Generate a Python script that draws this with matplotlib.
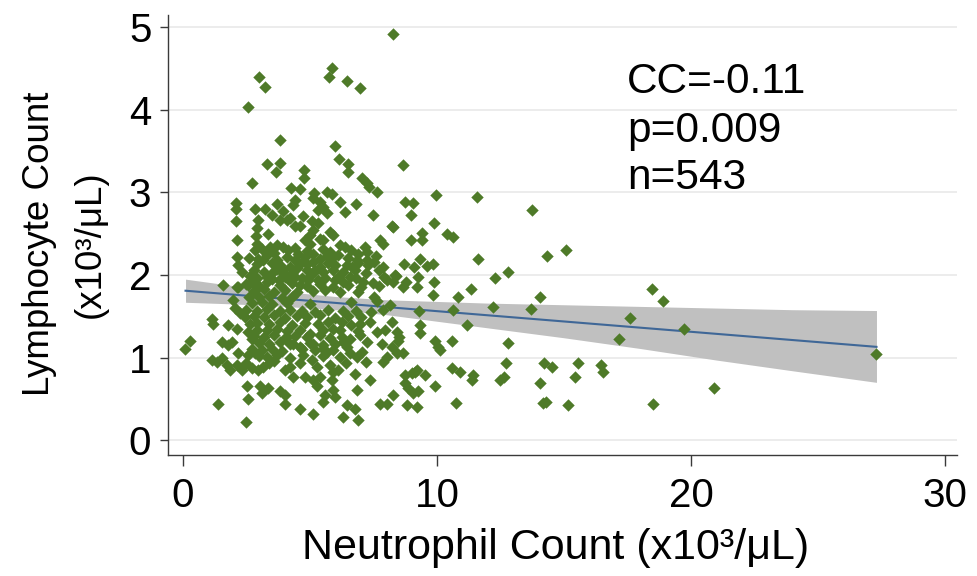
import matplotlib
matplotlib.use("Agg")
import matplotlib.pyplot as plt
import numpy as np

plt.rcParams['font.family'] = ['Liberation Sans', 'DejaVu Sans']

# ---- data (Neutrophil x10^3/uL, Lymphocyte x10^3/uL) ----
pts_top = [(8.28,4.92),(2.99,4.40),(3.23,4.28),(2.55,4.04),(5.85,4.51),(5.74,4.40),
           (6.47,4.35),(6.97,4.26),(3.82,3.64),(5.99,3.56)]
pts_upper = [(3.30,3.35),(3.80,3.36),(3.66,3.25),(2.73,3.11),(6.14,3.41),(6.51,3.35),(6.51,3.25),
             (4.76,3.27),(4.76,3.17),(8.65,3.33),(7.04,3.17),(7.26,3.12),(7.34,3.07),(7.65,3.00),
             (9.97,2.97),(11.56,2.94),(4.24,3.06),(4.61,3.04),(5.16,2.99),(5.11,2.93),(5.66,3.01),(5.85,2.98)]
pts_high = [(2.09,2.87),(2.09,2.80),(2.84,2.80),(3.23,2.80),(3.72,2.86),(3.49,2.73),(3.95,2.77),(2.09,2.65),
            (2.97,2.67),(2.90,2.57),(2.88,2.47),(3.36,2.50),(3.82,2.67),(2.11,2.43),(4.41,2.91),(4.34,2.85),
            (5.39,2.88),(5.53,2.83),(5.33,2.79),(5.66,2.75),(6.18,2.88),(6.81,2.86),(6.38,2.76),(7.49,2.73),
            (4.08,2.67),(4.21,2.69),(4.71,2.71),(4.61,2.59),(5.07,2.65),(5.13,2.55),(5.00,2.48),(5.33,2.63),
            (5.79,2.52),(5.92,2.48),(8.22,2.59),(4.41,2.60),(4.80,2.42),(5.00,2.38),(5.39,2.44),(5.53,2.42),
            (8.74,2.88),(9.04,2.87),(8.96,2.73),(8.25,2.58),(9.88,2.63),(9.40,2.51),(9.40,2.43),(8.96,2.43),
            (10.38,2.50),(10.62,2.46),(13.72,2.79),(7.76,2.42),(7.89,2.38)]
pts_mid = [(2.93,2.38),(2.84,2.30),(3.43,2.34),(3.69,2.36),(2.12,2.22),(2.18,2.12),(2.97,2.20),(3.16,2.18),
           (3.69,2.18),(3.82,2.12),(2.31,2.04),(2.64,1.99),(3.30,1.98),(3.49,2.02),(3.76,1.94),(3.95,2.02),
           (1.59,1.88),(2.11,1.86),(6.18,2.36),(6.38,2.34),(7.17,2.34),(7.23,2.28),(3.95,2.34),(4.15,2.30),
           (4.08,2.22),(4.54,2.26),(4.41,2.18),(4.67,2.16),(5.13,2.26),(5.13,2.16),(5.66,2.23),(5.92,2.22),
           (6.44,2.12),(6.64,2.10),(6.84,2.18),(7.23,2.18),(7.30,2.12),(7.89,2.10),(8.35,2.00),(3.95,2.06),
           (4.21,2.10),(4.48,2.08),(4.08,1.96),(4.41,1.98),(4.87,2.06),(5.07,2.02),(4.94,1.94),(5.39,2.10),
           (5.53,2.04),(5.33,1.94),(6.12,1.98),(6.31,1.92),(6.58,1.98),(7.10,1.92),(7.49,1.90),(8.02,1.94),
           (4.61,1.88),(11.60,2.20),(8.70,2.13),(9.09,2.10),(9.33,2.20),(9.62,2.11),(9.86,2.13),(8.39,1.99),
           (8.25,1.91),(8.78,1.92),(8.67,1.86),(9.27,1.98),(9.20,1.86),(9.88,1.92),(15.08,2.30),(14.33,2.23),
           (12.80,2.04),(12.27,1.96),(6.77,2.06),(2.18,1.85),(2.57,1.88),(2.71,1.92)]
pts_low = [(1.98,1.70),(2.05,1.60),(2.25,1.54),(2.44,1.49),(2.64,1.41),(1.13,1.47),(1.20,1.41),(1.79,1.39),
           (2.11,1.35),(2.57,1.31),(2.71,1.23),(1.52,1.19),(1.79,1.15),(1.92,1.19),(0.28,1.20),(0.08,1.10),
           (2.18,1.05),(2.57,1.03),(2.84,1.05),(9.83,1.76),(11.34,1.83),(10.84,1.74),(9.30,1.57),(10.64,1.58),
           (8.15,1.64),(8.22,1.43),(11.17,1.39),(9.33,1.39),(9.33,1.30),(8.41,1.31),(8.52,1.25),(8.48,1.20),
           (9.92,1.20),(10.05,1.13),(10.12,1.09),(10.58,1.20),(8.22,1.13),(8.41,1.06),(8.67,1.05),(14.07,1.73),
           (18.46,1.83),(18.88,1.69),(12.22,1.61),(13.70,1.59),(17.61,1.48),(19.72,1.35),(27.30,1.04),
           (12.80,1.18),(17.15,1.23),(7.63,1.68),(7.89,1.58),(6.25,1.43),(6.18,1.33),(6.25,1.25),(6.97,1.41),
           (7.36,1.43),(6.58,1.23),(6.97,1.27),(7.23,1.19),(7.63,1.31),(7.95,1.33),(7.82,1.17),(6.44,1.13),
           (6.58,1.05),(6.84,1.01),(7.04,1.07),(8.02,1.01),(5.92,1.09),(5.00,1.29),(5.13,1.17),(5.53,1.15),
           (5.66,1.07),(4.08,1.25),(4.34,1.17),(4.61,1.13),(4.74,1.03)]
pts_bottom = [(1.13,0.97),(1.33,0.95),(1.52,0.99),(1.72,0.91),(1.85,0.85),(2.11,0.91),(2.31,0.85),(2.71,0.87),
              (2.97,0.85),(3.16,0.89),(2.51,0.65),(3.03,0.65),(3.36,0.63),(3.10,0.57),(3.82,0.59),(2.57,0.50),
              (1.39,0.44),(4.02,0.44),(2.48,0.22),(7.89,0.95),(5.07,0.97),(5.26,0.89),(5.79,0.91),(5.92,0.83),
              (6.12,0.85),(6.77,0.80),(7.36,0.73),(4.02,0.85),(4.21,0.89),(4.34,0.77),(4.80,0.77),(5.13,0.73),
              (5.39,0.77),(5.26,0.65),(4.02,0.55),(5.85,0.73),(5.92,0.61),(5.99,0.52),(5.59,0.55),(5.53,0.46),
              (6.84,0.61),(6.44,0.42),(6.77,0.38),(7.76,0.44),(8.02,0.44),(4.61,0.38),(5.13,0.32),(6.30,0.28),
              (6.90,0.24),(9.00,0.81),(9.20,0.85),(8.87,0.63),(9.53,0.79),(9.92,0.65),(10.58,0.87),(10.91,0.82),
              (10.75,0.45),(11.40,0.79),(11.37,0.73),(9.13,0.83),(8.74,0.79),(8.74,0.69),(9.07,0.57),(9.27,0.59),
              (8.81,0.42),(9.20,0.40),(8.25,0.55),(12.72,0.93),(14.21,0.93),(14.52,0.89),(15.54,0.93),(16.44,0.91),
              (16.53,0.83),(12.48,0.73),(12.62,0.76),(15.43,0.77),(14.07,0.69),(20.92,0.63),(14.17,0.45),
              (14.30,0.46),(15.15,0.43),(18.50,0.44)]
pts_core = [(3.1,2.31),(3.6,2.27),(4.4,2.33),(4.9,2.29),(5.5,2.32),(5.8,2.28),(6.6,2.30),(6.9,2.26),
            (2.6,2.21),(3.3,2.24),(4.8,2.22),(5.4,2.20),(6.1,2.24),(6.5,2.21),(7.6,2.23),
            (2.9,2.13),(3.5,2.15),(4.9,2.13),(5.7,2.15),(6.0,2.12),(6.9,2.14),(7.5,2.16),
            (2.8,2.06),(3.2,2.04),(3.7,2.07),(4.3,2.03),(5.2,2.05),(5.9,2.06),(6.3,2.04),(7.2,2.03),(7.7,2.06),
            (2.9,1.97),(3.5,1.95),(4.0,1.98),(4.7,1.96),(5.0,1.99),(5.6,1.97),(6.0,1.94),(6.8,1.96),(7.9,1.98),
            (2.5,1.89),(3.0,1.87),(3.3,1.91),(3.8,1.88),(4.3,1.90),(4.9,1.87),(5.4,1.89),(5.9,1.86),(6.5,1.88),
            (7.0,1.85),(7.7,1.87),
            (2.8,1.81),(3.2,1.83),(3.6,1.80),(4.0,1.82),(4.5,1.79),(5.1,1.81),(5.6,1.82),(6.2,1.80),(6.9,1.79),
            (2.6,1.74),(3.0,1.73),(3.4,1.75),(3.9,1.72),(4.3,1.74),(7.5,1.73),
            (2.7,1.66),(3.1,1.67),(3.5,1.65),(4.1,1.66),(5.0,1.65),(6.6,1.67),
            (2.5,1.58),(2.9,1.57),(3.3,1.59),(3.8,1.56),(4.2,1.58),(4.7,1.57),(5.2,1.55),(5.7,1.58),(6.3,1.56),
            (6.8,1.57),(7.4,1.55),
            (2.8,1.50),(3.2,1.49),(3.6,1.51),(4.0,1.48),(4.5,1.50),(4.9,1.49),(5.4,1.51),(6.0,1.48),(6.5,1.50),(7.0,1.49),
            (2.9,1.42),(3.4,1.41),(3.8,1.43),(4.3,1.40),(4.8,1.42),(5.3,1.41),(5.7,1.43),(6.6,1.40),
            (2.9,1.34),(3.3,1.33),(3.7,1.35),(4.1,1.32),(4.6,1.34),(5.5,1.33),(5.9,1.35),(6.9,1.32),
            (2.8,1.26),(3.2,1.25),(3.6,1.27),(4.0,1.24),(4.4,1.26),(4.9,1.25),(5.4,1.27),(5.8,1.24),
            (3.0,1.18),(3.4,1.17),(3.8,1.19),(4.2,1.16),(5.0,1.18),(6.0,1.17),(6.3,1.19),
            (2.7,1.10),(3.1,1.09),(3.5,1.11),(3.9,1.08),(4.7,1.10),(5.2,1.09),(5.5,1.11),
            (3.0,1.02),(3.3,1.01),(3.7,1.03),(4.2,1.00),(5.5,1.02),(6.2,1.01),
            (2.5,0.94),(3.4,0.93),(3.6,0.96),(4.6,0.94),(6.4,0.93),(7.2,0.95)]

# linear fit and 95% CI band as drawn
fit_x = [0.1, 27.3]
fit_y = [1.81, 1.13]
band_x = [0.1, 2, 4, 6, 8, 10, 12, 15, 18, 21, 24, 27.3]
band_lo = [1.67, 1.65, 1.62, 1.58, 1.52, 1.44, 1.36, 1.24, 1.11, 0.97, 0.84, 0.70]
band_hi = [1.95, 1.87, 1.80, 1.74, 1.70, 1.68, 1.66, 1.64, 1.62, 1.60, 1.58, 1.57]

x_ticks = [0, 10, 20, 30]
y_ticks = [0, 1, 2, 3, 4, 5]
stats_text = ["CC=-0.11", "p=0.009", "n=543"]

all_pts = pts_top + pts_upper + pts_high + pts_mid + pts_low + pts_bottom + pts_core
neut = np.array([p[0] for p in all_pts])
lymph = np.array([p[1] for p in all_pts])

W, H = 977, 576
fig = plt.figure(figsize=(W / 100, H / 100), dpi=100)
ax = fig.add_axes([168 / W, 1 - 455 / H, (957 - 168) / W, (455 - 15) / H])
ax.set_xlim(-0.59, 30.47)
ax.set_ylim(-0.18, 5.15)

ax.set_xticks(x_ticks)
ax.set_yticks(y_ticks)
ax.yaxis.grid(True, color='#ececec', lw=1.4)
ax.xaxis.grid(False)
ax.set_axisbelow(True)
for s in ['top', 'right']:
    ax.spines[s].set_visible(False)
for s in ['left', 'bottom']:
    ax.spines[s].set_color('#3a3a3a')
    ax.spines[s].set_linewidth(1.0)
ax.tick_params(axis='x', direction='out', length=8, width=1, color='#3a3a3a', labelsize=29, pad=8)
ax.tick_params(axis='y', direction='out', length=6, width=1, color='#3a3a3a', labelsize=29, pad=6)

ax.fill_between(band_x, band_lo, band_hi, color='#c0c0c0', lw=0, zorder=2)
ax.plot(fit_x, fit_y, color='#3f6797', lw=1.5, zorder=3)
ax.scatter(neut, lymph, marker='D', s=40, color='#4e7a28', linewidths=0, zorder=4)

fig.text(40 / W, 1 - 244 / H, "Lymphocyte Count", rotation=90, ha='center', va='center', fontsize=26.5)
fig.text(90 / W, 1 - 244 / H, "(x10\u00b3/\u03bcL)", rotation=90, ha='center', va='center', fontsize=26.5)
fig.text(556 / W, 1 - 548 / H, "Neutrophil Count (x10\u00b3/\u03bcL)", ha='center', va='center', fontsize=31)

for t, yy in zip(stats_text, [82, 131, 178]):
    fig.text(627 / W, 1 - yy / H, t, ha='left', va='center', fontsize=30.5)

fig.savefig("out.png", dpi=100)
